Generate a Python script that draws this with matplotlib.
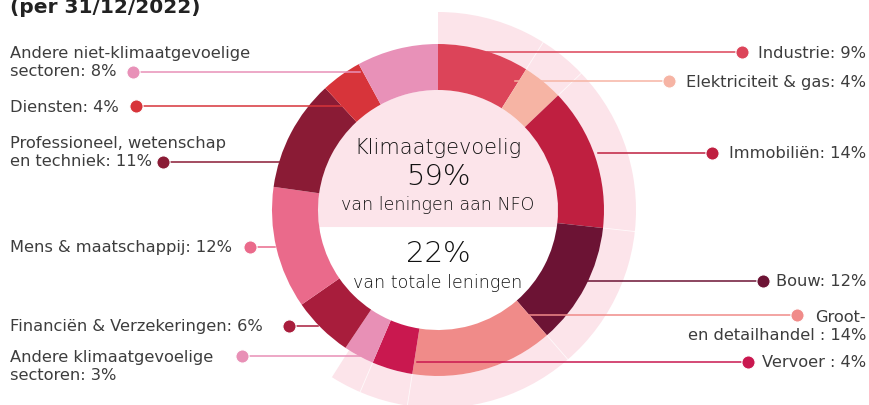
import numpy as np
import matplotlib.pyplot as plt
from matplotlib.patches import Wedge, Polygon

# =====================================
# DATA
# =====================================
sectors = [
    "Industrie", "Elektriciteit & gas", "Immobiliën", "Bouw",
    "Groot-\nen detailhandel ", "Vervoer ", "Andere klimaatgevoelige\nsectoren",
    "Financiën & Verzekeringen", "Mens & maatschappij",
    "Professioneel, wetenschap\nen techniek", "Diensten",
    "Andere niet-klimaatgevoelige\nsectoren",
]
shares = [9, 4, 14, 12, 14, 4, 3, 6, 12, 11, 4, 8]
climate_pct_nfo = 59
climate_pct_total = 22
title = "(per 31/12/2022)"

colors = [
    "#dc4459", "#f6b4a4", "#bf1f40", "#6c1334", "#f08b89", "#c9184f",
    "#e890b6", "#a81d3c", "#ea6a8b", "#8a1b35", "#d7343a", "#e891b8",
]
pale = "#fce4ea"
txt = "#3d3d3d"

# =====================================
# LAYOUT (pixel coords, y measured from top)
# side, dot x, dot y, line end x, text centre y
# =====================================
layout = [
    ("R", 742, 53, 487, 53),
    ("R", 669, 82, 515, 82),
    ("R", 712, 154, 598, 154),
    ("R", 763, 282, 588, 282),
    ("R", 797, 316, 527, 326.5),
    ("R", 748, 363, 417, 363),
    ("L", 242, 357, 360, 367),
    ("L", 289, 327, 318, 327),
    ("L", 250, 248, 275, 248),
    ("L", 163, 163, 283, 152.5),
    ("L", 136, 107, 342, 107),
    ("L", 133, 73, 360, 62.5),
]

W, H = 870, 406
cx, cy = 438, H - 211
r_out, r_in, r_band = 166, 120, 198

fig = plt.figure(figsize=(W / 100, H / 100), dpi=100)
ax = fig.add_axes([0, 0, 1, 1])

# =====================================
# DONUT
# =====================================
wedges, _ = ax.pie(shares, colors=colors, startangle=90, counterclock=False,
                   radius=r_out, center=(cx, cy),
                   wedgeprops=dict(width=r_out - r_in, edgecolor="none", zorder=3))

# pale outer band for climate sensitive share
band_end = 90 - climate_pct_nfo / 100 * 360
ax.add_patch(Wedge((cx, cy), r_band, band_end, 90, width=r_band - r_out,
                   facecolor=pale, edgecolor="none", zorder=1))
cum = 90 - np.cumsum(shares) / sum(shares) * 360
for a in cum[:6]:
    t = np.deg2rad(a)
    ax.plot([cx + r_out * np.cos(t), cx + r_band * np.cos(t)],
            [cy + r_out * np.sin(t), cy + r_band * np.sin(t)],
            color="white", lw=0.6, alpha=0.8, zorder=1.5)

# inner fill: upper part of disc = 59% of the area
lo, hi = 0.0, 1.0
for _ in range(60):
    m = (lo + hi) / 2
    f = 0.5 + (m * np.sqrt(1 - m * m) + np.arcsin(m)) / np.pi
    if f < climate_pct_nfo / 100:
        lo = m
    else:
        hi = m
h = lo * r_in
phi = np.arcsin(h / r_in)
ang = np.linspace(-phi, np.pi + phi, 200)
ax.add_patch(Polygon(np.column_stack([cx + r_in * np.cos(ang), cy + r_in * np.sin(ang)]),
                     closed=True, facecolor=pale, edgecolor="none", zorder=2))

# =====================================
# LABELS
# =====================================
for name, v, c, (side, dx, dy, lx, ty) in zip(sectors, shares, colors, layout):
    ax.plot([dx, lx], [H - dy, H - dy], color=c, lw=1.1, zorder=4)
    ax.plot(dx, H - dy, "o", color=c, ms=9.5, mec="white", mew=0.8, zorder=5)
    label = f"{name}: {v}%"
    if side == "L":
        ax.text(10, H - ty, label, ha="left", va="center", fontsize=11.7,
                color=txt, linespacing=1.25)
    else:
        ax.text(866, H - ty, label, ha="right", va="center", fontsize=11.7,
                color=txt, linespacing=1.25, multialignment="right")

# centre text
cfont = dict(ha="center", va="center", color="#111111", fontweight="light",
             zorder=6)
ax.text(cx, H - 148, "Klimaatgevoelig", fontsize=15, **cfont)
ax.text(cx, H - 177, f"{climate_pct_nfo}%", fontsize=21, **cfont)
ax.text(cx, H - 205, "van leningen aan NFO", fontsize=12.6, **cfont)
ax.text(cx, H - 254, f"{climate_pct_total}%", fontsize=21, **cfont)
ax.text(cx, H - 283, "van totale leningen", fontsize=12.6, **cfont)

# title, partly above the visible area as in the source
ax.text(10, H - 13, title, ha="left", va="baseline", fontsize=14.5,
        fontweight="bold", color="#222222")

ax.set_xlim(0, W)
ax.set_ylim(0, H)
ax.set_aspect("equal")
ax.axis("off")

fig.savefig("out.png", dpi=100)
